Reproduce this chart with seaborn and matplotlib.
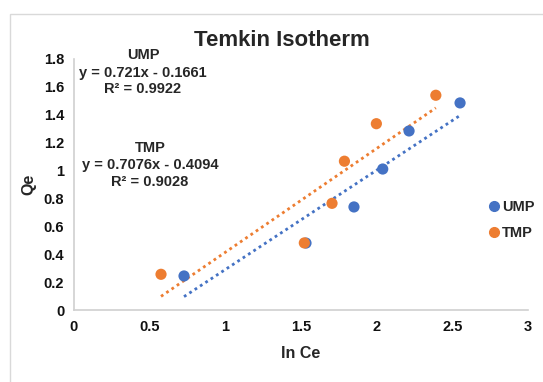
import numpy as np
import pandas as pd
import matplotlib
matplotlib.use("Agg")
import matplotlib.pyplot as plt
import seaborn as sns
from matplotlib.patches import Rectangle
from matplotlib.lines import Line2D

# Data
ump_x = [0.727, 1.533, 1.850, 2.040, 2.214, 2.551]
ump_y = [0.244, 0.480, 0.739, 1.011, 1.284, 1.485]
tmp_x = [0.575, 1.522, 1.705, 1.787, 1.998, 2.391]
tmp_y = [0.256, 0.481, 0.765, 1.067, 1.336, 1.540]
series_names = ["UMP", "TMP"]
x_ticks = [0, 0.5, 1, 1.5, 2, 2.5, 3]
y_ticks = [0, 0.2, 0.4, 0.6, 0.8, 1, 1.2, 1.4, 1.6, 1.8]
x_tick_labels = ["0", "0.5", "1", "1.5", "2", "2.5", "3"]
y_tick_labels = ["0", "0.2", "0.4", "0.6", "0.8", "1", "1.2", "1.4", "1.6", "1.8"]
ump_label = ["UMP", "y = 0.721x - 0.1661", "R² = 0.9922"]
tmp_label = ["TMP", "y = 0.7076x - 0.4094", "R² = 0.9028"]

BLUE = "#4472C4"
ORANGE = "#ED7D31"

sns.set_theme(style="white")
plt.rcParams["font.family"] = ["Liberation Sans", "DejaVu Sans"]
plt.rcParams["font.weight"] = "bold"

W, H = 543, 382
fig = plt.figure(figsize=(W / 100, H / 100), dpi=100)
ax = fig.add_axes([74 / W, 1 - 310 / H, (528 - 74) / W, (310 - 59) / H])

df = pd.DataFrame({
    "x": ump_x + tmp_x,
    "y": ump_y + tmp_y,
    "series": [series_names[0]] * len(ump_x) + [series_names[1]] * len(tmp_x),
})

# trendlines
sns.regplot(data=df[df.series == "UMP"], x="x", y="y", scatter=False, ci=None,
            truncate=True, ax=ax, color=BLUE,
            line_kws=dict(ls=(0, (1, 1.3)), lw=2.0, zorder=2))
sns.regplot(data=df[df.series == "TMP"], x="x", y="y", scatter=False, ci=None,
            truncate=True, ax=ax, color=ORANGE,
            line_kws=dict(ls=(0, (1, 1.3)), lw=2.0, zorder=2))

sns.scatterplot(data=df, x="x", y="y", hue="series",
                palette={"UMP": BLUE, "TMP": ORANGE}, s=65, edgecolor="none",
                ax=ax, legend=False, zorder=3)

ax.set_xlim(0, 3)
ax.set_ylim(0, 1.8)
ax.set_xticks(x_ticks)
ax.set_xticklabels(x_tick_labels)
ax.set_yticks(y_ticks)
ax.set_yticklabels(y_tick_labels)
ax.tick_params(axis="both", length=0, labelsize=10.5, colors="#111111", pad=7)
for lab in ax.get_xticklabels() + ax.get_yticklabels():
    lab.set_fontweight("bold")

for s in ["top", "right"]:
    ax.spines[s].set_visible(False)
for s in ["left", "bottom"]:
    ax.spines[s].set_color("#D0D0D0")
    ax.spines[s].set_linewidth(1.2)

ax.set_xlabel("In Ce", fontsize=11.5, fontweight="bold", labelpad=9)
ax.set_ylabel("Qe", fontsize=11.5, fontweight="bold", labelpad=5)
ax.grid(False)

fig.text(282 / W, 1 - 40 / H, "Temkin Isotherm", ha="center", va="center",
         fontsize=16, fontweight="bold")

# equation labels
for lines, cx, ys in [(ump_label, 143, [55, 73, 89]), (tmp_label, 150, [148, 165, 182])]:
    for t, yy in zip(lines, ys):
        fig.text(cx / W, 1 - yy / H, t, ha="center", va="center",
                 fontsize=10.5, fontweight="bold")

handles = [Line2D([], [], marker="o", ls="none", color=BLUE, markersize=7),
           Line2D([], [], marker="o", ls="none", color=ORANGE, markersize=7)]
leg = fig.legend(handles, series_names, loc="center left",
                 bbox_to_anchor=(474 / W, 1 - 220 / H), frameon=False,
                 handletextpad=0.0, handlelength=1.0, labelspacing=0.8,
                 prop=dict(size=10.5, weight="bold"))

# chart area border
fig.patches.append(Rectangle((10 / W, -0.05), 1.2, 1 - 14 / H + 0.05,
                             transform=fig.transFigure, fill=False,
                             edgecolor="#D9D9D9", lw=1.0))

fig.savefig("out.png", dpi=100)
